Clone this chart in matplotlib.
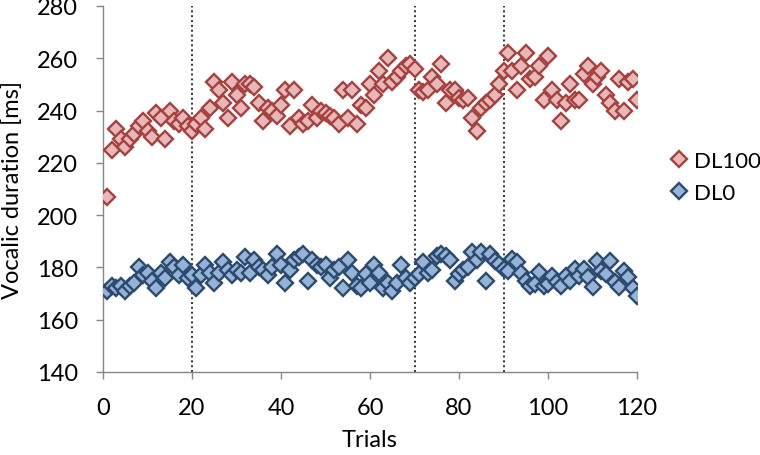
import matplotlib
matplotlib.use("Agg")
import matplotlib.pyplot as plt
import numpy as np

plt.rcParams['font.family'] = ['Lato', 'DejaVu Sans']

trials = list(range(1, 121))

dl100 = [207, 225, 233, 229, 226, 229, 231, 234, 236, 232,
         230, 239, 237, 229, 240, 236, 235, 237, 234, 232,
         235, 237, 233, 241, 251, 248, 243, 237, 251, 246,
         241, 250, 250, 249, 243, 236, 241, 240, 238, 242,
         248, 234, 248, 237, 235, 236, 242, 237, 240, 239,
         238, 237, 235, 248, 237, 248, 235, 242, 241, 250,
         246, 255, 250, 260, 251, 253, 255, 257, 258, 256,
         248, 247, 248, 253, 250, 258, 243, 248, 248, 245,
         244, 245, 237, 232, 241, 243, 244, 246, 250, 255,
         262, 255, 248, 257, 262, 252, 253, 257, 244, 261,
         248, 244, 236, 243, 250, 244, 244, 254, 257, 250,
         253, 255, 246, 243, 240, 252, 240, 251, 252, 244]

dl0 = [171, 173, 172, 173, 171, 173, 174, 180, 177, 178,
       175, 172, 178, 176, 182, 180, 177, 181, 176, 177,
       172, 177, 181, 178, 174, 178, 182, 179, 177, 179,
       178, 184, 178, 183, 180, 179, 177, 180, 185, 181,
       174, 179, 183, 184, 185, 175, 183, 181, 180, 181,
       176, 179, 180, 172, 183, 178, 173, 172, 177.5, 174,
       181, 178, 172, 174, 171, 174, 181, 176, 174, 176,
       177.5, 182, 178, 179, 184.5, 185, 184.5, 183, 175, 177.5,
       179, 180, 186, 183, 186, 175, 185, 182.6, 181.3, 179.4,
       178.8, 183.2, 182, 178, 174.9, 173, 173.7, 178.1, 173, 173.7,
       176.8, 174.3, 173, 176.8, 174.9, 179.4, 176.8, 179.4, 176.2, 172.4,
       182.6, 178.8, 177.5, 182.6, 174.3, 172.4, 178.8, 176.2, 172, 169]

phase_bounds = [20, 70, 90]
x_ticks = [0, 20, 40, 60, 80, 100, 120]
y_ticks = [140, 160, 180, 200, 220, 240, 260, 280]

fig = plt.figure(figsize=(7.6, 4.56), dpi=100)
ax = fig.add_axes([103/760, 1 - 373/456, (637-103)/760, (373-7)/456])

red_face, red_edge = '#E6B9B8', '#A6413F'
blue_face, blue_edge = '#95B3D7', '#2C4A6E'

for b in phase_bounds:
    ax.axvline(b, color='#333333', linestyle=(0, (1, 1.5)), linewidth=1.4, zorder=1)

h100, = ax.plot(trials, dl100, linestyle='none', marker='D', markersize=8,
                markerfacecolor=red_face, markeredgecolor=red_edge, markeredgewidth=1.7,
                label='DL100', zorder=3)
h0, = ax.plot(trials, dl0, linestyle='none', marker='D', markersize=8,
              markerfacecolor=blue_face, markeredgecolor=blue_edge, markeredgewidth=1.7,
              label='DL0', zorder=3)

ax.set_xlim(0, 120)
ax.set_ylim(140, 280)
ax.set_xticks(x_ticks)
ax.set_yticks(y_ticks)
ax.tick_params(axis='both', direction='out', length=5, width=1, color='#888888',
               labelsize=17, pad=13)
for s in ['top', 'right']:
    ax.spines[s].set_visible(False)
for s in ['left', 'bottom']:
    ax.spines[s].set_color('#888888')
    ax.spines[s].set_linewidth(1)

ax.set_xlabel('Trials', fontsize=17)
ax.set_ylabel('Vocalic duration [ms]', fontsize=17)
ax.xaxis.set_label_coords(0.5, -0.155)
ax.yaxis.set_label_coords(-0.15, 0.5)

fig.legend(handles=[h100, h0], loc='center left', bbox_to_anchor=(650/760, 1 - 178/456),
           frameon=False, fontsize=16, handlelength=0.8, handletextpad=0.3,
           labelspacing=0.55)

fig.savefig('out.png', dpi=100)
